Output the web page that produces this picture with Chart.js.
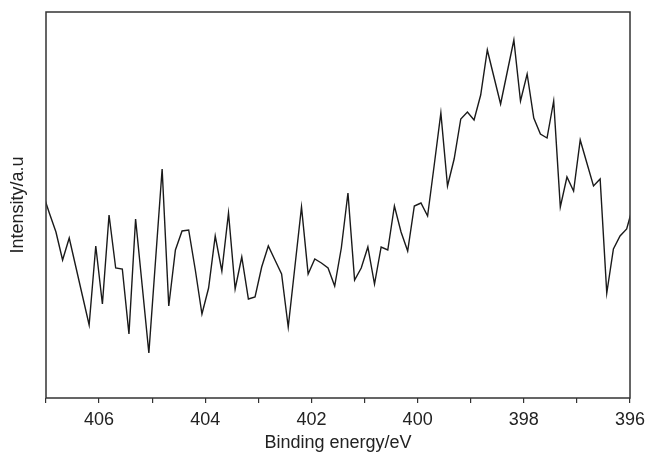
<!DOCTYPE html>
<html>
<head>
<meta charset="utf-8">
<script src="https://cdn.jsdelivr.net/npm/chart.js@4.4.1/dist/chart.umd.min.js"></script>
<style>
  html, body { margin: 0; padding: 0; background: #fff; }
  #chartData { display: block; }
</style>
</head>
<body>
<canvas id="chartData" width="645" height="457"></canvas>
<script>
// binding energy (eV), 0.125 eV steps
const energias = [
  407.0625,
  406.9375, 406.8125, 406.6875, 406.5625, 406.4375, 406.3125, 406.1875, 406.0625,
  405.9375, 405.8125, 405.6875, 405.5625, 405.4375, 405.3125, 405.1875, 405.0625,
  404.9375, 404.8125, 404.6875, 404.5625, 404.4375, 404.3125, 404.1875, 404.0625,
  403.9375, 403.8125, 403.6875, 403.5625, 403.4375, 403.3125, 403.1875, 403.0625,
  402.9375, 402.8125, 402.6875, 402.5625, 402.4375, 402.3125, 402.1875, 402.0625,
  401.9375, 401.8125, 401.6875, 401.5625, 401.4375, 401.3125, 401.1875, 401.0625,
  400.9375, 400.8125, 400.6875, 400.5625, 400.4375, 400.3125, 400.1875, 400.0625,
  399.9375, 399.8125, 399.6875, 399.5625, 399.4375, 399.3125, 399.1875, 399.0625,
  398.9375, 398.8125, 398.6875, 398.5625, 398.4375, 398.3125, 398.1875, 398.0625,
  397.9375, 397.8125, 397.6875, 397.5625, 397.4375, 397.3125, 397.1875, 397.0625,
  396.9375, 396.8125, 396.6875, 396.5625, 396.4375, 396.3125, 396.1875, 396.0625,
  395.9375
]

// intensity (a.u.)
const intensidad = [
  213,
  193, 174, 146, 168, 139, 110, 81, 160,
  102, 191, 138, 137, 72, 187, 120, 53,
  145, 237, 100, 156, 175, 176, 136, 92,
  118, 170, 135, 193, 117, 149, 107, 109,
  139, 160, 146, 132, 79, 139, 199, 132,
  147, 143, 138, 120, 158, 213, 126, 138,
  159, 122, 159, 156, 200, 174, 155, 200,
  203, 190, 241, 293, 220, 247, 287, 294,
  286, 311, 356, 329, 302, 334, 366, 305,
  332, 288, 272, 268, 305, 199, 229, 215,
  266, 243, 220, 227, 113, 157, 170, 177,
  201
]

// labelled ticks on the energy axis
const ticksX = [406, 404, 402, 400, 398, 396]

const fuente = 'Liberation Sans, Arial, sans-serif'

const marco = {
  id: 'marco',
  afterDraw(chart) {
    const {ctx, chartArea: a} = chart
    ctx.save()
    ctx.strokeStyle = '#333'
    ctx.lineWidth = 1.5
    ctx.strokeRect(a.left, a.top, a.right - a.left, a.bottom - a.top)
    ctx.restore()
  }
}

const puntos = energias.map((e, i) => ({x: e, y: intensidad[i]}))

new Chart(document.getElementById('chartData'), {
  type: 'line',
  data: {
    datasets: [{
      data: puntos,
      borderColor: '#1a1a1a',
      borderWidth: 1.4,
      pointRadius: 0,
      tension: 0,
      fill: false
    }]
  },
  options: {
    responsive: false,
    animation: false,
    layout: { padding: { left: 7, right: 15, top: 12, bottom: 0 } },
    plugins: { legend: { display: false }, tooltip: { enabled: false } },
    scales: {
      x: {
        type: 'linear',
        reverse: true,
        min: 396,
        max: 407,
        border: { display: false },
        grid: { drawOnChartArea: false, drawTicks: true, tickLength: 5, color: '#333', lineWidth: 1.2 },
        ticks: {
          stepSize: 1,
          autoSkip: false,
          maxRotation: 0,
          padding: 6,
          color: '#222',
          font: { family: fuente, size: 18 },
          callback: v => ticksX.includes(v) ? String(v) : ''
        },
        title: {
          display: true,
          text: 'Binding energy/eV',
          color: '#222',
          font: { family: fuente, size: 18 },
          padding: { top: 2, bottom: 2.8 }
        },
        afterFit: s => {
          s.height = 59
          s.paddingLeft = 0
          s.paddingRight = 0
        }
      },
      y: {
        min: 8,
        max: 394,
        border: { display: false },
        grid: { display: false, drawTicks: false },
        ticks: { display: false },
        title: {
          display: true,
          text: 'Intensity/a.u',
          color: '#222',
          font: { family: fuente, size: 18 },
          padding: { top: 0, bottom: 17.4 }
        }
      }
    }
  },
  plugins: [marco]
})
</script>
</body>
</html>
